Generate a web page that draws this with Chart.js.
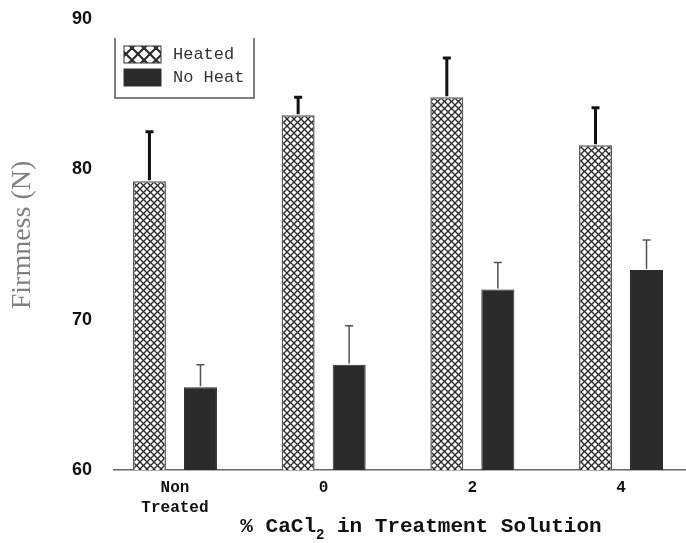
<!DOCTYPE html>
<html>
<head>
<meta charset="utf-8">
<script src="https://cdn.jsdelivr.net/npm/chart.js@4.4.1/dist/chart.umd.min.js"></script>
<style>
  body { margin: 0; background: #fff; }
  #wrap { width: 686px; height: 543px; position: relative; }
</style>
</head>
<body>
<div id="wrap"><canvas id="firmChart"></canvas></div>
<script>
// treatment groups on the x axis
const groups = [['Non', 'Treated'], '0', '2', '4'];
const seriesNames = ['Heated', 'No Heat'];
// firmness (N)
const heated = [79.2, 83.6, 84.8, 81.6];
const heatedErr = [3.3, 1.2, 2.6, 2.5];
const noHeat = [65.5, 67.0, 72.0, 73.3];
const noHeatErr = [1.5, 2.6, 1.8, 2.0];
const yTicks = [60, 70, 80, 90];

const canvas = document.getElementById('firmChart');
const ctx = canvas.getContext('2d');

// cross hatch fill like the old printout
function hatch(step, lw) {
    const c = document.createElement('canvas');
    c.width = step; c.height = step;
    const g = c.getContext('2d');
    g.fillStyle = '#fff';
    g.fillRect(0, 0, step, step);
    g.strokeStyle = '#2a2a2a';
    g.lineWidth = lw;
    for (const k of [-step, 0, step]) {
        g.beginPath(); g.moveTo(k, 0); g.lineTo(k + step, step); g.stroke();
        g.beginPath(); g.moveTo(k + step, 0); g.lineTo(k, step); g.stroke();
    }
    return ctx.createPattern(c, 'repeat');
}
const barHatch = hatch(7, 1.3);
const legendHatch = hatch(12, 2.2);
const darkFill = '#2b2b2b';

const errorBars = {
    id: 'errorBars',
    afterDatasetsDraw(chart, args, opts) {
        const c = chart.ctx, y = chart.scales.y;
        chart.data.datasets.forEach((ds, i) => {
            const meta = chart.getDatasetMeta(i);
            meta.data.forEach((bar, j) => {
                const top = y.getPixelForValue(ds.data[j].y + opts.errors[i][j]);
                c.save();
                c.strokeStyle = opts.colors[i];
                c.lineWidth = opts.widths[i];
                c.beginPath();
                c.moveTo(bar.x, bar.y - 1);
                c.lineTo(bar.x, top);
                c.moveTo(bar.x - 4, top);
                c.lineTo(bar.x + 4, top);
                c.stroke();
                c.restore();
            });
        });
    }
};

// boxed legend in the upper left, open at the top like the reference
const boxLegend = {
    id: 'boxLegend',
    afterDraw(chart) {
        const c = chart.ctx;
        c.save();
        c.strokeStyle = '#555';
        c.lineWidth = 1.5;
        c.beginPath();
        c.moveTo(115, 38); c.lineTo(115, 98); c.lineTo(254, 98); c.lineTo(254, 38);
        c.stroke();
        const fills = [legendHatch, darkFill];
        chart.data.datasets.forEach((ds, i) => {
            const top = 46 + i * 23;
            c.fillStyle = fills[i];
            c.fillRect(124, top, 37, 17);
            c.strokeStyle = '#333';
            c.lineWidth = 1;
            c.strokeRect(124, top, 37, 17);
            c.fillStyle = '#333';
            c.font = '17px "Liberation Mono"';
            c.textBaseline = 'middle';
            c.textAlign = 'left';
            c.fillText(ds.label, 173, top + 8.5);
        });
        c.restore();
    }
};

const axisTitles = {
    id: 'axisTitles',
    afterDraw(chart) {
        const c = chart.ctx;
        c.save();
        // y title
        c.translate(23, 235);
        c.rotate(-Math.PI / 2);
        c.fillStyle = '#808080';
        c.font = '28px "Liberation Serif"';
        c.textAlign = 'center';
        c.textBaseline = 'middle';
        c.fillText('Firmness (N)', 0, 0);
        c.restore();

        // x title with subscript 2
        c.save();
        c.fillStyle = '#111';
        c.textBaseline = 'middle';
        c.textAlign = 'left';
        const big = 'bold 21px "Liberation Mono"', small = 'bold 14px "Liberation Mono"';
        const a = '% CaCl', b = '2', d = ' in Treatment Solution';
        c.font = big;
        const wa = c.measureText(a).width, wd = c.measureText(d).width;
        c.font = small;
        const wb = c.measureText(b).width;
        let x = 421 - (wa + wb + wd) / 2;
        c.font = big;
        c.fillText(a, x, 527);
        c.font = small;
        c.fillText(b, x + wa, 535);
        c.font = big;
        c.fillText(d, x + wa + wb, 527);
        c.restore();
    }
};

const chart = new Chart(ctx, {
    type: 'bar',
    data: {
        datasets: [{
            label: seriesNames[0],
            data: heated.map((v, i) => ({ x: i, y: v })),
            backgroundColor: barHatch,
            borderColor: '#5a5a5a',
            borderWidth: 1.5
        }, {
            label: seriesNames[1],
            data: noHeat.map((v, i) => ({ x: i, y: v })),
            backgroundColor: darkFill,
            borderColor: darkFill,
            borderWidth: 1
        }]
    },
    options: {
        responsive: true,
        maintainAspectRatio: false,
        animation: false,
        layout: { padding: { top: 19, left: 0, right: 0, bottom: 0 } },
        categoryPercentage: 0.686,
        barPercentage: 0.647,
        plugins: {
            legend: { display: false },
            tooltip: { enabled: false },
            errorBars: {
                errors: [heatedErr, noHeatErr],
                colors: ['#111', '#555'],
                widths: [3, 1.5]
            }
        },
        scales: {
            x: {
                type: 'linear',
                offset: false,
                min: -0.41,
                max: 3.437,
                afterBuildTicks: s => { s.ticks = groups.map((g, i) => ({ value: i })); },
                afterFit: s => { s.height = 73; },
                grid: { display: false, drawTicks: false, offset: false },
                border: { display: true, color: '#666', width: 1.5 },
                ticks: {
                    padding: 8,
                    color: '#111',
                    font: { family: 'Liberation Mono', weight: 'bold', size: 16, lineHeight: 1.25 },
                    maxRotation: 0,
                    autoSkip: false,
                    callback: (v, i) => groups[i]
                }
            },
            y: {
                min: 60,
                max: 90,
                afterBuildTicks: s => { s.ticks = yTicks.map(v => ({ value: v })); },
                afterFit: s => { s.width = 114; s.paddingTop = 0; s.paddingBottom = 0; },
                grid: { display: false, drawTicks: false },
                border: { display: false },
                ticks: {
                    padding: 22,
                    color: '#111',
                    font: { family: 'Liberation Sans', weight: 'bold', size: 18 }
                }
            }
        }
    },
    plugins: [errorBars, boxLegend, axisTitles]
});
</script>
</body>
</html>
